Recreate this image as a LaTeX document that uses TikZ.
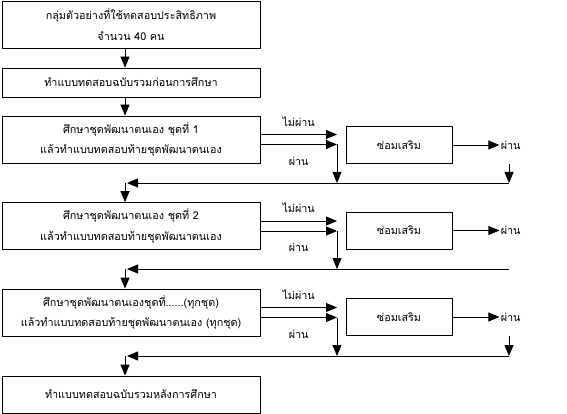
\documentclass[tikz,border=0pt]{standalone}
\usepackage{fontspec}
\newfontfamily\thaifont[Script=Thai]{Loma}
\usetikzlibrary{arrows.meta}

\def\boxwidth{258pt}

\begin{document}
\begin{tikzpicture}[x=1pt,y=-1pt,line width=0.8pt,>={Triangle[length=11pt,width=9pt]},
    font=\thaifont\fontsize{10.8}{20.5}\selectfont]
    \tikzstyle{study box}=[draw,minimum width=\boxwidth,align=center,inner sep=0pt]
    \tikzstyle{repair box}=[draw,minimum width=106pt,minimum height=37pt]
    \tikzstyle{result}=[inner sep=1pt]

    \useasboundingbox (0,0) rectangle (567,414);
    \coordinate (spine) at (125,0);
    \coordinate (drop) at (337,0);
    \coordinate (back) at (509,0);

    % Draw the boxes of the main column
    \node[study box,minimum height=47pt] (start) at (131,24.5)
        {กลุ่มตัวอย่างที่ใช้ทดสอบประสิทธิภาพ\\จำนวน 40 คน};
    \node[study box,minimum height=29pt] (pre) at (131,82.5)
        {ทำแบบทดสอบฉบับรวมก่อนการศึกษา};
    \node[study box,minimum height=37pt] (post) at (131,394.5)
        {ทำแบบทดสอบฉบับรวมหลังการศึกษา};

    % Draw every set: the study box, the repair box and the way back
    \foreach \name / \y / \ry / \by / \first / \second in
        {1/139.5/145/183/{ศึกษาชุดพัฒนาตนเอง ชุดที่ 1}/{แล้วทำแบบทดสอบท้ายชุดพัฒนาตนเอง},
         2/226/230.5/269/{ศึกษาชุดพัฒนาตนเอง ชุดที่ 2}/{แล้วทำแบบทดสอบท้ายชุดพัฒนาตนเอง},
         3/312.5/317/356/{ศึกษาชุดพัฒนาตนเองชุดที่......(ทุกชุด)}/{แล้วทำแบบทดสอบท้ายชุดพัฒนาตนเอง (ทุกชุด)}}
    {
        \node[study box,minimum height=47pt] (S-\name) at (131,\y) {\first\\\second};
        \node[repair box] (R-\name) at (399,\ry) {ซ่อมเสริม};
        \coordinate (B-\name) at (0,\by);
    }

    \draw[->] (start.south -| spine) -- (pre.north -| spine);
    \draw[->] (pre.south -| spine) -- (S-1.north -| spine);

    \foreach \name / \next in {1/S-2,2/S-3,3/post}
    {
        \draw[->] ([yshift=5pt]S-\name.east) -- node[result,above=7pt] {ไม่ผ่าน}
            ([yshift=5pt]S-\name.east -| drop);
        \draw[->] ([yshift=-5pt]S-\name.east) -- node[result,below=11pt] {ผ่าน}
            ([yshift=-5pt]S-\name.east -| drop);
        \draw[->] ([yshift=-5pt]S-\name.east -| drop) -- (B-\name -| drop);
        \draw[->] (R-\name.east) -- ++(47,0) node[result,right] {ผ่าน};
        \draw[->] (B-\name -| back) -- ([xshift=2pt]B-\name -| spine);
        \draw[->] (B-\name -| spine) -- (\next.north -| spine);
    }

    % The way down after the repair
    \draw[->] (R-1.south -| back) -- (B-1 -| back);
    \draw[->] (R-3.south -| back) -- (B-3 -| back);
\end{tikzpicture}
\end{document}
